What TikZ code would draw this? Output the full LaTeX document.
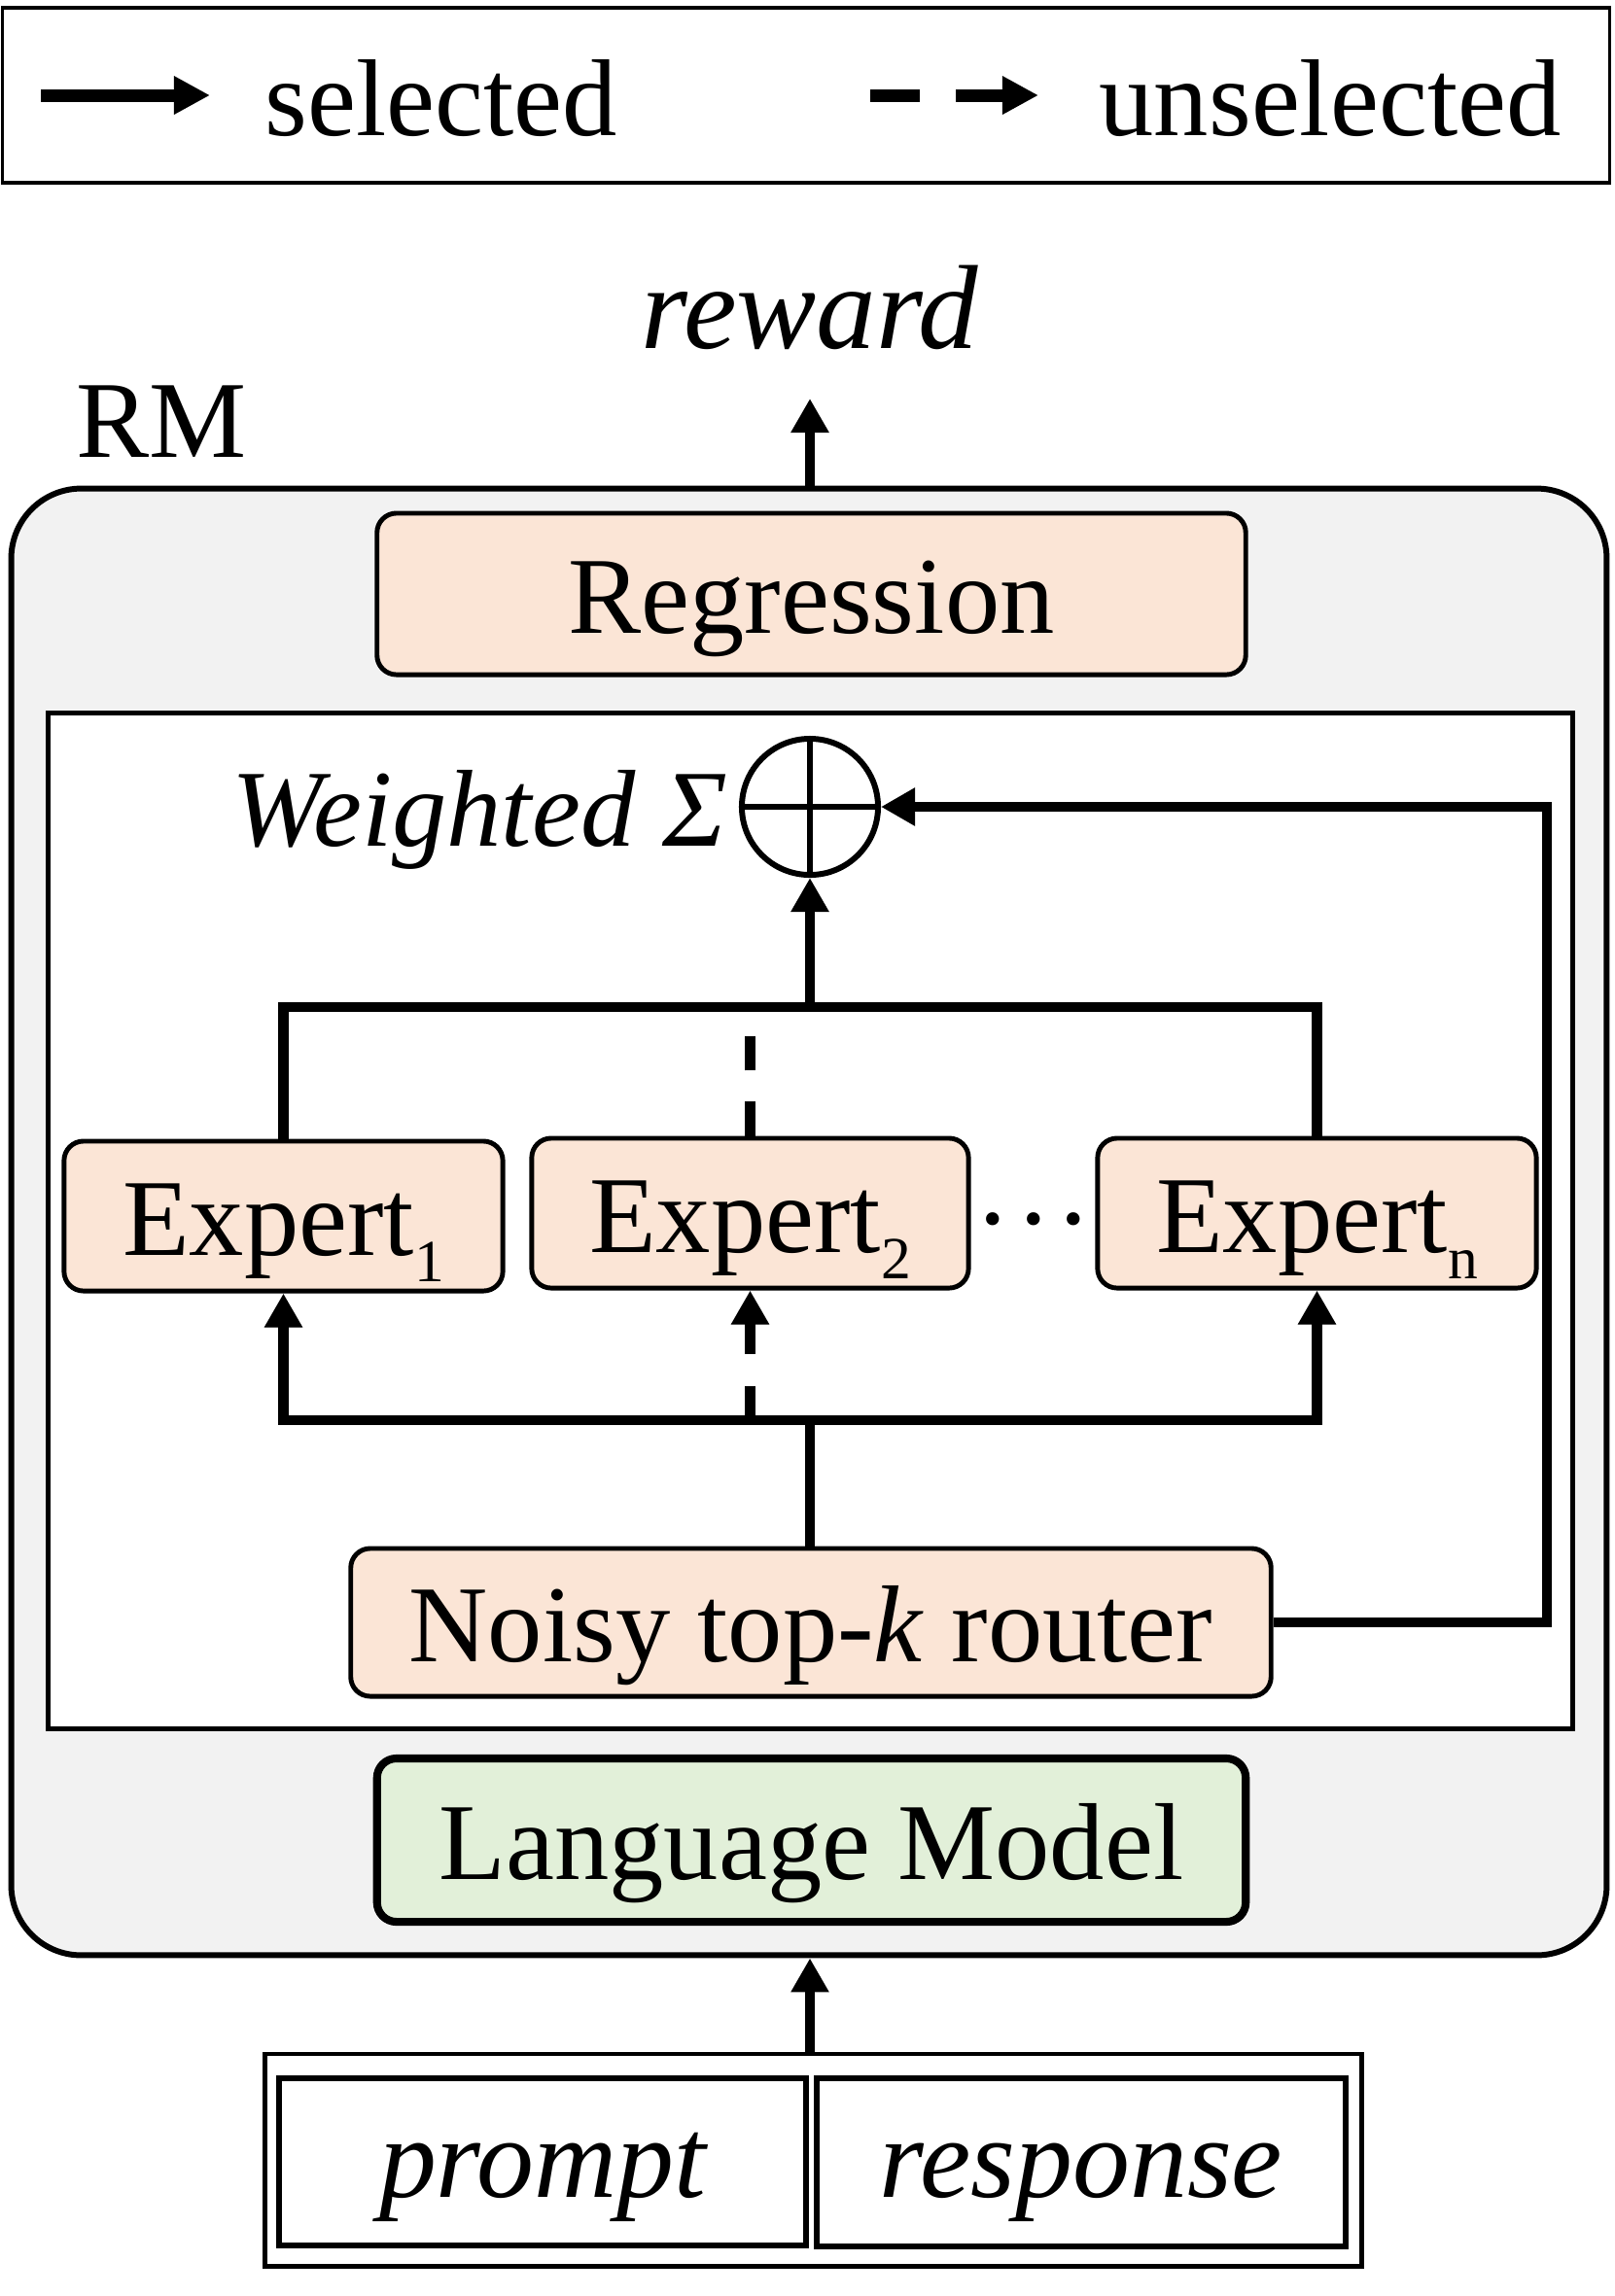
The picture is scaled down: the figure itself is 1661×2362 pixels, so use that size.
\documentclass[tikz,border=0pt]{standalone}
\usepackage{fontspec}
\setmainfont{Liberation Serif}
\usetikzlibrary{arrows.meta}
\definecolor{peach}{HTML}{FBE5D6}
\definecolor{lgreen}{HTML}{E2F0D9}
\definecolor{lgray}{HTML}{F2F2F2}
\newcommand{\xsub}[1]{\raisebox{-7.7pt}{\fontsize{17.5}{17.5}\selectfont #1}}
\begin{document}
\begin{tikzpicture}[x=0.01cm,y=-0.01cm,
  tx/.style={font=\fontsize{32}{38}\selectfont},
  txi/.style={font=\fontsize{32}{38}\selectfont\itshape},
  pbox/.style={draw, line width=1.4pt, rounded corners=0.2cm, fill=peach, inner sep=0pt,
               text height=0.8cm, text depth=0pt, tx},
  inbox/.style={draw, line width=1.7pt, inner sep=0, text height=0.72cm, text depth=0pt,
               font=\fontsize{33.5}{38}\selectfont\itshape},
  conn/.style={line width=2.85pt, line join=miter},
  arr/.style={conn, -{Triangle[length=0.35cm,width=0.37cm]}},
  larr/.style={line width=3.7pt, -{Triangle[length=0.37cm,width=0.37cm]}}]
\useasboundingbox (0,0) rectangle (1661,2362);

% legend
\node[draw, line width=1pt, minimum width=16.52cm, minimum height=1.8cm, inner sep=0] (leg) at (829,98) {};
\coordinate (la1) at (42,98);
\coordinate (la2) at (216,98);
\coordinate (lb1) at (895,98);
\coordinate (lb2) at (1068,98);
\draw[larr] (la1) -- (la2);
\draw[larr, dash pattern=on 0.51cm off 0.37cm] (lb1) -- (lb2);
\node[tx, anchor=base west, inner sep=0] (lsel) at (272,139) {selected};
\node[tx, anchor=base west, inner sep=0] (luns) at (1130,139) {unselected};

% reward and RM label
\node[font=\fontsize{35}{40}\selectfont\itshape, anchor=base, inner sep=0] (reward) at (833,358) {reward};
\node[tx, anchor=base west, inner sep=0] (rmlabel) at (78,470) {RM};
\coordinate (rtip) at (833,410);

% RM box
\node[draw, line width=1.7pt, fill=lgray, rounded corners=0.72cm, minimum width=16.4cm,
      minimum height=15.08cm, inner sep=0] (rm) at (832,1257) {};
\node[draw, line width=1.4pt, fill=white, minimum width=15.67cm, minimum height=10.44cm,
      inner sep=0] (moe) at (833.5,1256) {};

\node[pbox, minimum width=8.93cm, minimum height=1.66cm] (reg) at (834.5,611) {Regression};

\node[draw, circle, line width=1.7pt, fill=white, minimum size=1.4cm, inner sep=0] (sum) at (833,830) {};
\draw[line width=1.5pt] (sum.north) -- (sum.south);
\draw[line width=1.5pt] (sum.west) -- (sum.east);
\node[txi, anchor=base east, inner sep=0] (wlabel) at (749,870) {Weighted Σ};

\node[pbox, minimum width=4.51cm, minimum height=1.54cm] (E1) at (291.5,1251) {Expert\xsub{1}};
\node[pbox, minimum width=4.49cm, minimum height=1.54cm] (E2) at (771.5,1248) {Expert\xsub{2}};
\node[pbox, minimum width=4.51cm, minimum height=1.54cm] (En) at (1354.5,1248) {Expert\xsub{n}};
\node[tx, anchor=base, inner sep=0] (dots) at (1063,1291) {·\kern1.1pt·\kern1.1pt·};

\node[pbox, minimum width=9.46cm, minimum height=1.52cm] (router) at (834,1669) {Noisy top-\textit{k} router};

\node[pbox, fill=lgreen, line width=2.3pt, minimum width=8.93cm, minimum height=1.68cm] (lm) at (834.5,1893) {Language Model};

% input
\node[draw, line width=1.4pt, fill=white, minimum width=11.27cm, minimum height=2.18cm, inner sep=0] (inp) at (836.5,2222) {};
\node[inbox, minimum width=5.42cm, minimum height=1.72cm] (prompt) at (558,2224) {prompt};
\node[inbox, minimum width=5.44cm, minimum height=1.73cm] (response) at (1112,2224.5) {response};

% connectors
\draw[arr] (rtip |- rm.north) -- (rtip);
\coordinate (tb) at (833,1036);
\draw[conn] (E1.north) |- (tb) -| (En.north);
\draw[arr] (tb) -- (sum.south);
\draw[conn, dash pattern=on 0.35cm off 0.32cm] (E2.north) -- (E2.north |- tb);

\coordinate (bb) at (833,1461);
\draw[arr] (bb) -| (E1.south);
\draw[arr] (bb) -| (En.south);
\draw[conn] (bb |- router.north) -- (bb);
\draw[arr, dash pattern=on 0.35cm off 0.33cm] (E2.south |- bb) -- (E2.south);

\coordinate (rc) at (1591,830);
\draw[arr] (router.east) -| (rc) -- (sum.east);

\draw[arr] (rtip |- inp.north) -- (rtip |- rm.south);
\end{tikzpicture}
\end{document}
